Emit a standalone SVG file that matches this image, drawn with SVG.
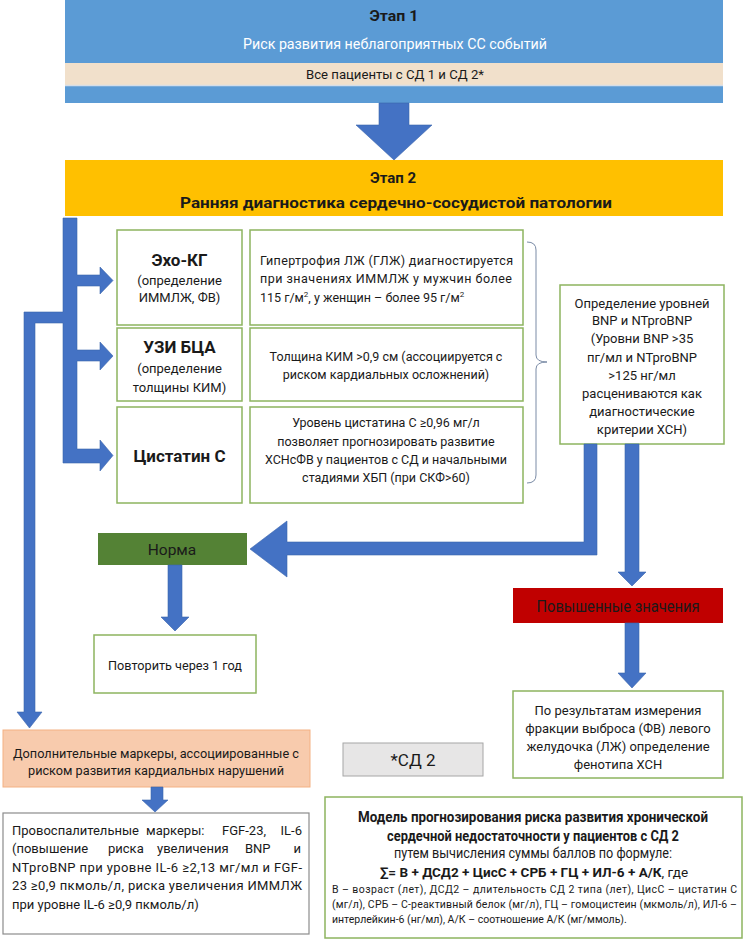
<svg xmlns="http://www.w3.org/2000/svg" width="750" height="944" viewBox="0 0 750 944">
<style>
text{font-family:Roboto,"Open Sans","Liberation Sans",sans-serif;fill:#1a1a1a}
.c{text-anchor:middle}
.b{font-weight:bold}
.gbox{fill:#fff;stroke:#8DB45F;stroke-width:1.5}
.arr{fill:#4472C4;stroke:#3A64AD;stroke-width:0.6}
.t13{font-size:13px}
.t12{font-size:12.5px}
</style>
<rect width="750" height="944" fill="#fff"/>

<g id="stage1">
<rect x="65" y="0" width="658" height="103" fill="#5B9BD5"/>
<rect x="65" y="63" width="658" height="22" fill="#F1E0CB"/>
<line x1="65" y1="85.5" x2="723" y2="85.5" stroke="#D5DDE8" stroke-width="1.5"/>
<text x="394" y="21" class="c b" font-size="15" textLength="49" lengthAdjust="spacingAndGlyphs">Этап 1</text>
<text x="395" y="49" class="c" font-size="15" style="fill:#fff" textLength="304" lengthAdjust="spacingAndGlyphs">Риск развития неблагоприятных СС событий</text>
<text x="395" y="79" class="c" font-size="13" textLength="178" lengthAdjust="spacingAndGlyphs">Все пациенты с СД 1 и СД 2*</text>
</g>

<g id="stage2">
<rect x="65" y="160" width="658" height="56" fill="#FFC000"/>
<text x="393" y="183" class="c b" font-size="15">Этап 2</text>
<text x="396" y="208" class="c b" font-size="15.5" textLength="432" lengthAdjust="spacingAndGlyphs">Ранняя диагностика сердечно-сосудистой патологии</text>
</g>

<g id="echo">
<rect x="117" y="230" width="125" height="95" class="gbox"/>
<text x="179.5" y="266" class="c b" font-size="17">Эхо-КГ</text>
<text x="179.5" y="285" class="c t13">(определение</text>
<text x="179.5" y="302" class="c t13">ИММЛЖ, ФВ)</text>
</g>
<g id="echo-desc">
<rect x="250" y="230" width="273" height="95" class="gbox"/>
<text x="260" y="264.5" class="t12" textLength="253" lengthAdjust="spacing">Гипертрофия ЛЖ (ГЛЖ) диагностируется</text>
<text x="260" y="282.5" class="t12" textLength="252" lengthAdjust="spacing">при значениях ИММЛЖ у мужчин более</text>
<text x="260" y="301.5" class="t12">115 г/м<tspan font-size="8" dy="-5">2</tspan><tspan dy="5">, у женщин – более 95 г/м</tspan><tspan font-size="8" dy="-5">2</tspan></text>
</g>

<g id="uzi">
<rect x="117" y="328" width="125" height="73" class="gbox"/>
<text x="179.5" y="353" class="c b" font-size="17">УЗИ БЦА</text>
<text x="179.5" y="373" class="c t13">(определение</text>
<text x="179.5" y="392" class="c t13">толщины КИМ)</text>
</g>
<g id="uzi-desc">
<rect x="250" y="328" width="273" height="73" class="gbox"/>
<text x="386" y="360.5" class="c t12">Толщина КИМ &gt;0,9 см (ассоциируется с</text>
<text x="386" y="378.5" class="c t12">риском кардиальных осложнений)</text>
</g>

<g id="cyst">
<rect x="117" y="407" width="125" height="96" class="gbox"/>
<text x="179.5" y="462" class="c b" font-size="17">Цистатин С</text>
</g>
<g id="cyst-desc">
<rect x="250" y="407" width="273" height="96" class="gbox"/>
<text x="386" y="426.5" class="c t12">Уровень цистатина С ≥0,96 мг/л</text>
<text x="386" y="445.5" class="c t12">позволяет прогнозировать развитие</text>
<text x="386" y="463.5" class="c t12">ХСНсФВ у пациентов с СД и начальными</text>
<text x="386" y="481.5" class="c t12">стадиями ХБП (при СКФ&gt;60)</text>
</g>

<g id="bnp">
<rect x="560" y="285" width="164" height="159" class="gbox"/>
<text x="642" y="307.5" class="c t13">Определение уровней</text>
<text x="642" y="325" class="c t13">BNP и NTproBNP</text>
<text x="642" y="343" class="c t13">(Уровни BNP &gt;35</text>
<text x="642" y="361.5" class="c t13">пг/мл и NTproBNP</text>
<text x="642" y="379.5" class="c t13">&gt;125 нг/мл</text>
<text x="642" y="397.5" class="c t13">расцениваются как</text>
<text x="642" y="415.5" class="c t13">диагностические</text>
<text x="642" y="433.5" class="c t13">критерии ХСН)</text>
</g>

<g id="norma">
<rect x="98" y="533" width="149" height="32" fill="#548235"/>
<text x="172" y="555" class="c" font-size="15.5">Норма</text>
</g>

<g id="repeat">
<rect x="94" y="635" width="162" height="58" class="gbox"/>
<text x="175" y="669.5" class="c" font-size="13" textLength="134" lengthAdjust="spacingAndGlyphs">Повторить через 1 год</text>
</g>

<g id="elevated">
<rect x="513" y="588" width="210" height="35" fill="#C00000"/>
<text x="618" y="611.5" class="c" font-size="16" textLength="163" lengthAdjust="spacingAndGlyphs">Повышенные значения</text>
</g>

<g id="phenotype">
<rect x="513" y="691" width="210" height="87" class="gbox"/>
<text x="618" y="714.5" class="c t13">По результатам измерения</text>
<text x="618" y="732.5" class="c t13">фракции выброса (ФВ) левого</text>
<text x="618" y="750.5" class="c t13">желудочка (ЛЖ) определение</text>
<text x="618" y="768.5" class="c t13">фенотипа ХСН</text>
</g>

<g id="extra">
<rect x="3" y="730" width="307" height="57" fill="#F8CBAD" stroke="#F4B183" stroke-width="1"/>
<text x="156" y="757.5" class="c t13" textLength="286" lengthAdjust="spacingAndGlyphs">Дополнительные маркеры, ассоциированные с</text>
<text x="156" y="774.5" class="c t13" textLength="256" lengthAdjust="spacingAndGlyphs">риском развития кардиальных нарушений</text>
</g>

<g id="inflam">
<rect x="3" y="813" width="306" height="121" fill="#fff" stroke="#8C8C8C" stroke-width="1.2"/>
<text class="t13" y="834.5"><tspan x="12">Провоспалительные</tspan><tspan x="146">маркеры:</tspan><tspan x="222">FGF-23,</tspan><tspan x="302" text-anchor="end">IL-6</tspan></text>
<text class="t13" y="853"><tspan x="12">(повышение</tspan><tspan x="108">риска</tspan><tspan x="157">увеличения</tspan><tspan x="245">BNP</tspan><tspan x="301" text-anchor="end">и</tspan></text>
<text x="12" y="871.5" class="t13" textLength="290" lengthAdjust="spacing">NTproBNP при уровне IL-6 ≥2,13 мг/мл и FGF-</text>
<text x="12" y="890" class="t13" textLength="290" lengthAdjust="spacing">23 ≥0,9 пкмоль/л, риска увеличения ИММЛЖ</text>
<text x="12" y="908.5" class="t13">при уровне IL-6 ≥0,9 пкмоль/л)</text>
</g>

<g id="sd2">
<rect x="343" y="743" width="140" height="33" fill="#E7E6E6" stroke="#A6A6A6" stroke-width="1"/>
<text x="413" y="766" class="c" font-size="17">*СД 2</text>
</g>

<g id="model">
<rect x="325" y="797" width="417" height="141" class="gbox"/>
<text x="533" y="822" class="c b" font-size="14" textLength="350" lengthAdjust="spacingAndGlyphs">Модель прогнозирования риска развития хронической</text>
<text x="533" y="840.5" class="c b" font-size="14" textLength="292" lengthAdjust="spacingAndGlyphs">сердечной недостаточности у пациентов с СД 2</text>
<text x="533" y="858" class="c" font-size="14" textLength="278" lengthAdjust="spacingAndGlyphs">путем вычисления суммы баллов по формуле:</text>
<text x="534" y="876.5" class="c" font-size="13.5"><tspan font-weight="bold">∑= В + ДСД2 + ЦисС + СРБ + ГЦ + ИЛ-6 + А/К</tspan>, где</text>
<text x="332" y="892.5" font-size="10.5" textLength="405" lengthAdjust="spacing">В – возраст (лет), ДСД2 – длительность СД 2 типа (лет), ЦисС – цистатин С</text>
<text x="332" y="907.5" font-size="10.5" textLength="405" lengthAdjust="spacing">(мг/л), СРБ – С-реактивный белок (мг/л), ГЦ – гомоцистеин (мкмоль/л), ИЛ-6 –</text>
<text x="332" y="922.5" font-size="10.5">интерлейкин-6 (нг/мл), А/К – соотношение А/К (мг/ммоль).</text>
</g>

<g id="connectors">
<polygon class="arr" points="379,103 409,103 409,125 432,125 394,160 356,125 379,125"/>
<polygon class="arr" points="63,218 77,218 77,275 100,275 100,267 113,280.5 100,294 100,286 77,286 77,350 100,350 100,342 113,356 100,370 100,361 77,361 77,449 100,449 100,440 113,455.5 100,471 100,463 63,463 63,323 35,323 35,712 42,712 29.5,728 17,712 24,712 24,312 63,312"/>
<path d="M527,242 Q536,242 536,250 L536,355 Q536,362 547,362 Q536,362 536,369 L536,475 Q536,483 527,483" fill="none" stroke="#7A8BA6" stroke-width="1"/>
<polygon class="arr" points="584,444 597,444 597,555 287,555 287,577 250,549 287,521 287,542 584,542"/>
<polygon class="arr" points="625,444 639,444 639,572 646,572 632,586 618,572 625,572"/>
<polygon class="arr" points="625,623 639,623 639,673 646,673 632,688 618,673 625,673"/>
<polygon class="arr" points="168,565 182,565 182,617 189,617 175,631 161,617 168,617"/>
<polygon class="arr" points="151,787 163,787 163,800 168,800 155,812 142,800 151,800"/>
</g>
</svg>
